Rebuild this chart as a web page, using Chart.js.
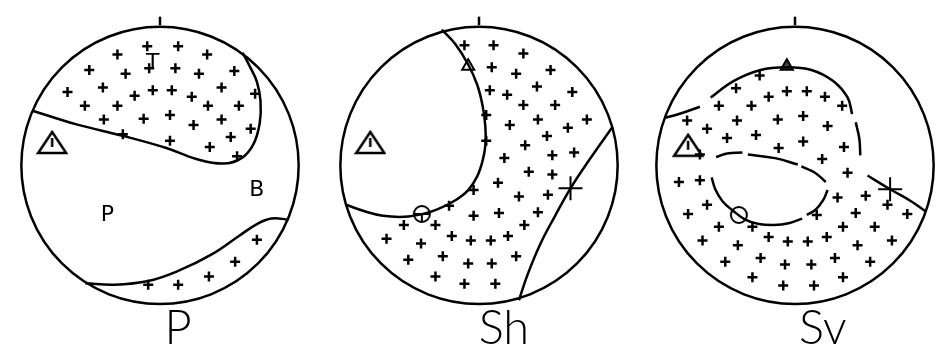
<!DOCTYPE html>
<html>
<head>
<meta charset="utf-8">
<script src="https://cdn.jsdelivr.net/npm/chart.js@4.4.1/dist/chart.umd.min.js"></script>
<style>
  html, body { margin: 0; padding: 0; background: #fff; overflow: hidden; }
  #wrap { position: relative; width: 943px; height: 362px; overflow: hidden; }
  .net { position: absolute; top: 0; width: 320px; height: 362px; }
</style>
</head>
<body>
<div id="wrap">
  <div class="net" style="left:0px"><canvas id="net-p"></canvas></div>
  <div class="net" style="left:319px"><canvas id="net-sh"></canvas></div>
  <div class="net" style="left:635px"><canvas id="net-sv"></canvas></div>
</div>
<script>
// All positions are on a unit-radius net: x to the east, y to the north.

// ---------- P ----------
const pPlus = [
  [-0.092, 0.850], [0.131, 0.850], [-0.307, 0.791], [0.340, 0.791],
  [-0.078, 0.693], [-0.510, 0.680], [-0.248, 0.654], [0.111, 0.693],
  [0.281, 0.654], [0.536, 0.673], [-0.667, 0.523], [-0.412, 0.556],
  [-0.183, 0.497], [-0.052, 0.536], [0.085, 0.536], [0.229, 0.490],
  [0.444, 0.556], [0.686, 0.510], [-0.542, 0.425], [-0.307, 0.425],
  [0.346, 0.425], [0.569, 0.425], [-0.405, 0.327], [-0.118, 0.333],
  [0.072, 0.359], [0.242, 0.288], [0.444, 0.327], [0.654, 0.261],
  [-0.268, 0.222], [0.072, 0.176], [0.510, 0.203], [0.359, 0.131],
  [0.556, 0.065],
  [0.699, -0.529], [0.542, -0.686], [0.353, -0.791], [0.131, -0.850],
  [-0.085, -0.850]
];
const pPlaneA = [
  [-0.920, 0.390], [-0.608, 0.294], [-0.261, 0.209], [0.046, 0.124],
  [0.261, 0.046], [0.458, 0.013], [0.588, 0.052], [0.673, 0.150],
  [0.719, 0.301], [0.725, 0.458], [0.699, 0.595], [0.654, 0.693],
  [0.596, 0.803]
];
const pPlaneB = [
  [0.928, -0.386], [0.804, -0.379], [0.699, -0.418], [0.569, -0.503],
  [0.373, -0.634], [0.131, -0.752], [-0.085, -0.824], [-0.327, -0.850],
  [-0.540, -0.840]
];
const pWarn = [[-0.778, 0.160]];
const pTexts = [['P', -0.379, -0.353], ['B', 0.699, -0.176], ['T', -0.052, 0.725]];

// ---------- Sh ----------
const shPlus = [
  [-0.105, 0.856], [0.105, 0.856], [0.320, 0.797], [0.092, 0.699],
  [0.268, 0.654], [0.516, 0.680], [0.078, 0.536], [0.203, 0.503],
  [0.418, 0.562], [0.673, 0.523], [0.320, 0.431], [0.549, 0.431],
  [0.052, 0.359], [0.222, 0.288], [0.425, 0.327], [0.641, 0.268],
  [0.778, 0.327], [0.490, 0.209], [0.052, 0.176], [0.333, 0.144],
  [0.529, 0.072], [0.686, 0.092], [0.183, 0.052], [0.359, -0.046],
  [0.529, -0.065], [0.137, -0.124], [-0.039, -0.176], [0.288, -0.222],
  [0.497, -0.209], [-0.216, -0.288], [0.144, -0.340], [0.425, -0.333],
  [-0.039, -0.359], [0.327, -0.425], [-0.542, -0.425], [-0.314, -0.425],
  [-0.667, -0.523], [-0.196, -0.503], [-0.059, -0.536], [0.085, -0.536],
  [0.209, -0.503], [-0.418, -0.556], [-0.510, -0.673], [-0.261, -0.647],
  [-0.078, -0.699], [0.092, -0.699], [0.268, -0.647], [-0.314, -0.791],
  [-0.105, -0.843], [0.118, -0.843]
];
const shPlaneA = [
  [-0.268, 0.967], [-0.170, 0.863], [-0.078, 0.719], [-0.013, 0.575],
  [0.026, 0.425], [0.046, 0.275], [0.046, 0.144], [0.026, 0.033],
  [-0.013, -0.078], [-0.078, -0.176], [-0.170, -0.248], [-0.301, -0.314],
  [-0.405, -0.346], [-0.536, -0.366], [-0.693, -0.359], [-0.824, -0.327],
  [-0.960, -0.280]
];
const shPlaneB = [
  [0.288, -0.961], [0.353, -0.771], [0.444, -0.556], [0.549, -0.359],
  [0.660, -0.163], [0.791, 0.033], [0.960, 0.270]
];
const shTriangle = [[-0.078, 0.706]];
const shWarn = [[-0.784, 0.160]];
const shCircle = [[-0.412, -0.346]];
const shBigCross = [[0.660, -0.163]];

// ---------- Sv ----------
const svPlus = [
  [-0.255, 0.641], [-0.425, 0.549], [-0.059, 0.529], [0.085, 0.529],
  [-0.190, 0.490], [0.216, 0.490], [-0.549, 0.425], [-0.314, 0.425],
  [0.340, 0.425], [-0.778, 0.320], [-0.418, 0.320], [-0.124, 0.327],
  [0.059, 0.353], [-0.634, 0.261], [0.235, 0.281], [-0.490, 0.196],
  [-0.281, 0.216], [0.059, 0.170], [-0.118, 0.124], [0.353, 0.131],
  [-0.686, 0.078], [0.196, 0.046], [0.379, -0.052], [-0.837, -0.118],
  [-0.686, -0.105], [0.307, -0.229], [0.510, -0.216], [0.667, -0.281],
  [-0.634, -0.281], [-0.771, -0.346], [0.157, -0.353], [0.438, -0.340],
  [0.810, -0.346], [-0.549, -0.438], [-0.307, -0.438], [0.346, -0.438],
  [0.575, -0.438], [-0.667, -0.536], [-0.190, -0.510], [-0.052, -0.542],
  [0.092, -0.542], [0.229, -0.510], [0.451, -0.569], [0.699, -0.536],
  [-0.412, -0.569], [-0.503, -0.686], [-0.248, -0.660], [-0.072, -0.706],
  [0.118, -0.706], [0.288, -0.660], [0.542, -0.686], [-0.307, -0.797],
  [-0.085, -0.856], [0.137, -0.856], [0.346, -0.797]
];
// broken nodal lines: one array per drawn piece
const svOuterPieces = [
  [[-0.940, 0.340], [-0.837, 0.366], [-0.686, 0.418]],
  [[-0.608, 0.484], [-0.444, 0.601], [-0.248, 0.680], [-0.065, 0.699],
   [0.118, 0.680], [0.275, 0.601], [0.379, 0.484], [0.412, 0.366]],
  [[0.438, 0.307], [0.464, 0.190], [0.471, 0.072]],
  [[0.523, -0.072], [0.686, -0.170], [0.837, -0.255], [0.945, -0.330]]
];
const svInnerPieces = [
  [[-0.569, 0.059], [-0.490, 0.085], [-0.379, 0.092]],
  [[-0.340, 0.078], [-0.144, 0.052], [0.020, 0.007]],
  [[0.046, -0.007], [0.144, -0.052], [0.222, -0.118]],
  [[-0.601, -0.085], [-0.575, -0.170], [-0.523, -0.255], [-0.451, -0.320],
   [-0.359, -0.386], [-0.261, -0.418], [-0.150, -0.425], [-0.046, -0.412],
   [0.052, -0.379]],
  [[0.085, -0.353], [0.150, -0.314], [0.203, -0.248], [0.235, -0.176]]
];
const svTriangle = [[-0.059, 0.706]];
const svWarn = [[-0.771, 0.140]];
const svCircle = [[-0.405, -0.353]];
const svBigCross = [[0.686, -0.170]];

const phaseTitles = ['P', 'Sh', 'Sv'];
const titleAt = [[0.13, -1.27], [0.18, -1.27], [0.20, -1.27]];

// ---------- drawing ----------
const INK = '#000';
const LW = 2.5;
const X_HALF = 160 / 153;
const Y_TOP = 164 / 153;
const Y_BOTTOM = -198 / 153;

const pts = arr => arr.map(([x, y]) => ({ x, y }));

// triangle with a stem, used for the axis symbol
function warnGlyph() {
  const c = document.createElement('canvas');
  c.width = 32; c.height = 26;
  const g = c.getContext('2d');
  g.strokeStyle = INK; g.lineWidth = LW; g.lineJoin = 'miter';
  g.beginPath();
  g.moveTo(16, 2); g.lineTo(30, 23); g.lineTo(2, 23); g.closePath();
  g.stroke();
  g.beginPath(); g.moveTo(16, 8); g.lineTo(16, 17); g.stroke();
  return c;
}
function ringGlyph(withBar) {
  const c = document.createElement('canvas');
  c.width = 22; c.height = 22;
  const g = c.getContext('2d');
  g.strokeStyle = INK; g.lineWidth = 2;
  g.beginPath(); g.arc(11, 11, 8, 0, Math.PI * 2); g.stroke();
  if (withBar) {
    g.beginPath(); g.moveTo(3, 11); g.lineTo(19, 11);
    g.moveTo(11, 11); g.lineTo(11, 19); g.stroke();
  }
  return c;
}
const WARN = warnGlyph();

function lineSet(arr) {
  return {
    data: pts(arr), showLine: true, tension: 0.4, borderColor: INK,
    borderWidth: LW, pointRadius: 0, fill: false
  };
}
function markSet(arr, style, radius, width, fillColor) {
  return {
    data: pts(arr), showLine: false, pointStyle: style, pointRadius: radius,
    pointBorderColor: INK, pointBorderWidth: width,
    pointBackgroundColor: fillColor || 'rgba(0,0,0,0)'
  };
}
const tickSet = () => lineSet([[0, 1], [0, 1.06]]);

const netFrame = {
  id: 'netFrame',
  beforeDatasetsDraw(chart) {
    const { ctx, scales: { x, y } } = chart;
    const cx = x.getPixelForValue(0), cy = y.getPixelForValue(0);
    const r = x.getPixelForValue(1) - cx;
    ctx.save();
    ctx.strokeStyle = INK; ctx.lineWidth = LW;
    ctx.beginPath(); ctx.arc(cx, cy, r, 0, Math.PI * 2); ctx.stroke();
    ctx.restore();
  },
  afterDatasetsDraw(chart, args, opts) {
    const { ctx, scales: { x, y } } = chart;
    ctx.save();
    ctx.fillStyle = INK;
    ctx.textAlign = 'center';
    ctx.textBaseline = 'alphabetic';
    ctx.font = '300 47px Lato, "DejaVu Sans", sans-serif';
    ctx.fillText(opts.title, x.getPixelForValue(opts.titleAt[0]), y.getPixelForValue(opts.titleAt[1]));
    ctx.textBaseline = 'middle';
    ctx.font = '22px "DejaVu Sans", sans-serif';
    (opts.texts || []).forEach(([t, tx, ty]) => {
      ctx.fillText(t, x.getPixelForValue(tx), y.getPixelForValue(ty));
    });
    ctx.restore();
  }
};

function drawNet(id, i, datasets, texts) {
  new Chart(document.getElementById(id), {
    type: 'scatter',
    data: { datasets: datasets.concat([tickSet()]) },
    options: {
      responsive: true,
      maintainAspectRatio: false,
      animation: false,
      events: [],
      layout: { padding: 0 },
      scales: {
        x: { type: 'linear', display: false, min: -X_HALF, max: X_HALF },
        y: { type: 'linear', display: false, min: Y_BOTTOM, max: Y_TOP }
      },
      plugins: {
        legend: { display: false },
        tooltip: { enabled: false },
        netFrame: { title: phaseTitles[i], titleAt: titleAt[i], texts }
      }
    },
    plugins: [netFrame]
  });
}

drawNet('net-p', 0, [
  lineSet(pPlaneA),
  lineSet(pPlaneB),
  markSet(pPlus, 'cross', 5, LW),
  markSet(pWarn, WARN, 14, 1)
], pTexts);

drawNet('net-sh', 1, [
  lineSet(shPlaneA),
  lineSet(shPlaneB),
  markSet(shPlus, 'cross', 5, LW),
  markSet(shTriangle, 'triangle', 7, 2, '#fff'),
  markSet(shWarn, WARN, 14, 1),
  markSet(shCircle, ringGlyph(true), 10, 1),
  markSet(shBigCross, 'cross', 12, 2)
], []);

drawNet('net-sv', 2, [
  ...svOuterPieces.map(lineSet),
  ...svInnerPieces.map(lineSet),
  markSet(svPlus, 'cross', 5, LW),
  markSet(svTriangle, 'triangle', 7, 2, '#444'),
  markSet(svWarn, WARN, 14, 1),
  markSet(svCircle, ringGlyph(false), 10, 1),
  markSet(svBigCross, 'cross', 12, 2)
], []);
</script>
</body>
</html>
